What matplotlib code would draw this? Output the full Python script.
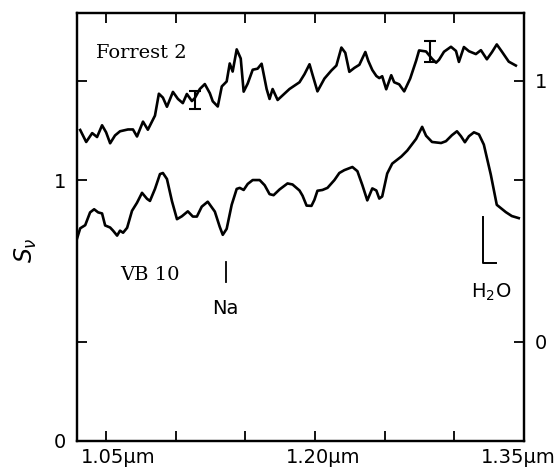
import matplotlib
matplotlib.use("Agg")
import matplotlib.pyplot as plt
import matplotlib.transforms as mtransforms

# ---------------- data ----------------
# Forrest 2 (upper spectrum, right-hand axis units)
forrest_x = [1.0314, 1.0357, 1.040, 1.0435, 1.0471, 1.050, 1.0529, 1.0564, 1.060, 1.0657,
             1.0693, 1.0722, 1.0765, 1.080, 1.0851, 1.0879, 1.0908, 1.0937, 1.098, 1.1016,
             1.1051, 1.108, 1.1116, 1.1137, 1.1173, 1.1209, 1.1245, 1.1266, 1.1302, 1.1331,
             1.1366, 1.1388, 1.1409, 1.1438, 1.1467, 1.1488, 1.1517, 1.1553, 1.1588, 1.1617,
             1.1653, 1.1674, 1.1696, 1.1732,
             1.1817, 1.1889, 1.1925, 1.1961, 1.1982, 1.2018, 1.2068, 1.2118, 1.2154, 1.219,
             1.2218, 1.2247, 1.2283, 1.2319, 1.2362, 1.2383, 1.2412, 1.2441, 1.2462, 1.2483,
             1.2512, 1.2548, 1.2569, 1.2605, 1.2641, 1.2684, 1.2727, 1.2748, 1.2798, 1.2841,
             1.287, 1.2891, 1.2927, 1.2977, 1.3013, 1.3034, 1.307, 1.3106, 1.3156, 1.3192,
             1.3235, 1.3271, 1.3306, 1.3342, 1.3392, 1.3443]
forrest_s = [0.812, 0.766, 0.800, 0.785, 0.830, 0.803, 0.761, 0.791, 0.807, 0.814,
             0.814, 0.787, 0.844, 0.813, 0.867, 0.951, 0.936, 0.901, 0.958, 0.931,
             0.915, 0.950, 0.923, 0.934, 0.969, 0.988, 0.953, 0.922, 0.902, 0.979,
             0.998, 1.067, 1.036, 1.121, 1.086, 0.959, 0.990, 1.043, 1.047, 1.066,
             0.969, 0.931, 0.969, 0.927,
             0.969, 0.995, 1.026, 1.064, 1.025, 0.960, 1.009, 1.040, 1.059, 1.128,
             1.108, 1.035, 1.050, 1.062, 1.111, 1.077, 1.042, 1.019, 1.011, 1.018,
             0.968, 1.022, 0.995, 0.987, 0.960, 1.009, 1.078, 1.117, 1.113, 1.085,
             1.070, 1.081, 1.112, 1.131, 1.115, 1.073, 1.130, 1.114, 1.103, 1.118,
             1.083, 1.110, 1.140, 1.113, 1.074, 1.059]

# VB 10 (lower spectrum, left-hand axis units)
vb10_x = [1.0292, 1.0314, 1.035, 1.0385, 1.0414, 1.0443, 1.0471, 1.0493, 1.0529, 1.055,
          1.0579, 1.06, 1.0622, 1.0651, 1.0686, 1.0722, 1.0758, 1.0794, 1.0815, 1.0851,
          1.0887, 1.0908, 1.0937, 1.0973, 1.1009, 1.1044, 1.1087, 1.1123, 1.1152, 1.1187,
          1.123, 1.1281, 1.1316, 1.1338, 1.1366, 1.1402, 1.1438, 1.146, 1.1488, 1.1517,
          1.1553, 1.1603, 1.1639, 1.1674, 1.1703, 1.1746, 1.1803, 1.1839, 1.1889, 1.1911,
          1.194, 1.1975, 1.1996, 1.2018, 1.2054, 1.209, 1.214, 1.2175, 1.2211, 1.2269,
          1.2305, 1.2341, 1.2376, 1.2412, 1.2441, 1.2462, 1.2483, 1.2519, 1.2555, 1.262,
          1.2663, 1.2727, 1.277, 1.2798, 1.2841, 1.2906, 1.2941, 1.2984, 1.302, 1.3049,
          1.3077, 1.3106, 1.3142, 1.3178, 1.3213, 1.3263, 1.3306, 1.3371, 1.3414, 1.3464]
vb10_s = [0.777, 0.815, 0.827, 0.876, 0.888, 0.876, 0.872, 0.826, 0.818, 0.806,
          0.787, 0.806, 0.798, 0.817, 0.882, 0.913, 0.951, 0.928, 0.920, 0.966,
          1.023, 1.027, 1.004, 0.919, 0.850, 0.861, 0.880, 0.860, 0.860, 0.898,
          0.917, 0.879, 0.821, 0.790, 0.813, 0.905, 0.966, 0.970, 0.962, 0.985,
          1.000, 1.000, 0.980, 0.946, 0.942, 0.964, 0.987, 0.983, 0.960, 0.940,
          0.902, 0.901, 0.924, 0.959, 0.962, 0.970, 1.000, 1.027, 1.038, 1.050,
          1.034, 0.980, 0.922, 0.968, 0.960, 0.929, 0.937, 1.025, 1.063, 1.090,
          1.113, 1.158, 1.204, 1.170, 1.146, 1.142, 1.149, 1.172, 1.187, 1.168,
          1.145, 1.168, 1.183, 1.175, 1.136, 1.021, 0.905, 0.877, 0.862, 0.854]

# error bars on Forrest 2 (right-axis units)
err_x = [1.1137, 1.2827]
err_lo = [0.892, 1.074]
err_hi = [0.961, 1.155]

x_ticks = [1.05, 1.10, 1.15, 1.20, 1.25, 1.30, 1.35]
x_labels = ["1.05\u03bcm", "", "", "1.20\u03bcm", "", "", "1.35\u03bcm"]
left_ticks = [0, 0.38, 1, 1.38]
left_labels = ["0", "", "1", ""]
right_offset = 0.38
right_ticks = [0, 0.62, 1]
right_labels = ["0", "", "1"]

# line features
na_x = 1.1359
na_y = (0.609, 0.686)
h2o_x = (1.3207, 1.330)
h2o_y = (0.683, 0.860)

# ---------------- figure ----------------
fig = plt.figure(figsize=(5.59, 4.69), dpi=100)
ax = fig.add_axes([0.138, 0.060, 0.799, 0.912])
ax2 = ax.twinx()

xlim = (1.0292, 1.35)
ylim = (0.0, 1.64)
ax.set_xlim(*xlim)
ax.set_ylim(*ylim)
ax2.set_ylim(ylim[0] - right_offset, ylim[1] - right_offset)

lw = 1.9
ax.plot(vb10_x, vb10_s, color="black", lw=lw, solid_joinstyle="round")
ax2.plot(forrest_x, forrest_s, color="black", lw=lw, solid_joinstyle="round")

for xe, lo, hi in zip(err_x, err_lo, err_hi):
    ax2.errorbar([xe], [(lo + hi) / 2], yerr=[[(hi - lo) / 2], [(hi - lo) / 2]],
                 fmt="none", ecolor="black", elinewidth=1.5, capsize=4.5, capthick=1.5)

for sp in list(ax.spines.values()) + list(ax2.spines.values()):
    sp.set_linewidth(1.6)

tick_kw = dict(direction="in", length=7, width=1.3, colors="black")
ax.set_xticks(x_ticks)
ax.set_xticklabels(x_labels, fontsize=14)
ax.tick_params(axis="x", which="both", top=True, pad=5, **tick_kw)
ax.set_yticks(left_ticks)
ax.set_yticklabels(left_labels, fontsize=14)
ax.tick_params(axis="y", pad=8, **tick_kw)
ax2.set_yticks(right_ticks)
ax2.set_yticklabels(right_labels, fontsize=14)
ax2.tick_params(axis="y", pad=8, **tick_kw)

# shift x labels as in reference
shifts = {0: 12, 3: 8, 6: -6}
for i, lab in enumerate(ax.get_xticklabels()):
    if i in shifts:
        off = mtransforms.ScaledTranslation(shifts[i] / 100.0, 0, fig.dpi_scale_trans)
        lab.set_transform(lab.get_transform() + off)

ax.set_ylabel(r"$S_\nu$", fontsize=17)
ax.yaxis.set_label_coords(-0.085, 0.447)

# annotations
ax2.text(1.0428, 1.108, "Forrest 2", fontsize=14, family="DejaVu Serif", va="center", ha="left")
ax.text(1.060, 0.637, "VB 10", fontsize=14, family="DejaVu Serif", va="center", ha="left")
ax.text(1.1355, 0.509, "Na", fontsize=14, va="center", ha="center")
ax.text(1.3265, 0.568, r"H$_2$O", fontsize=14, va="center", ha="center")
ax.plot([na_x, na_x], list(na_y), color="black", lw=1.3)
ax.plot([h2o_x[0], h2o_x[0], h2o_x[1]], [h2o_y[1], h2o_y[0], h2o_y[0]], color="black", lw=1.4)

fig.savefig("out.png", dpi=100)
